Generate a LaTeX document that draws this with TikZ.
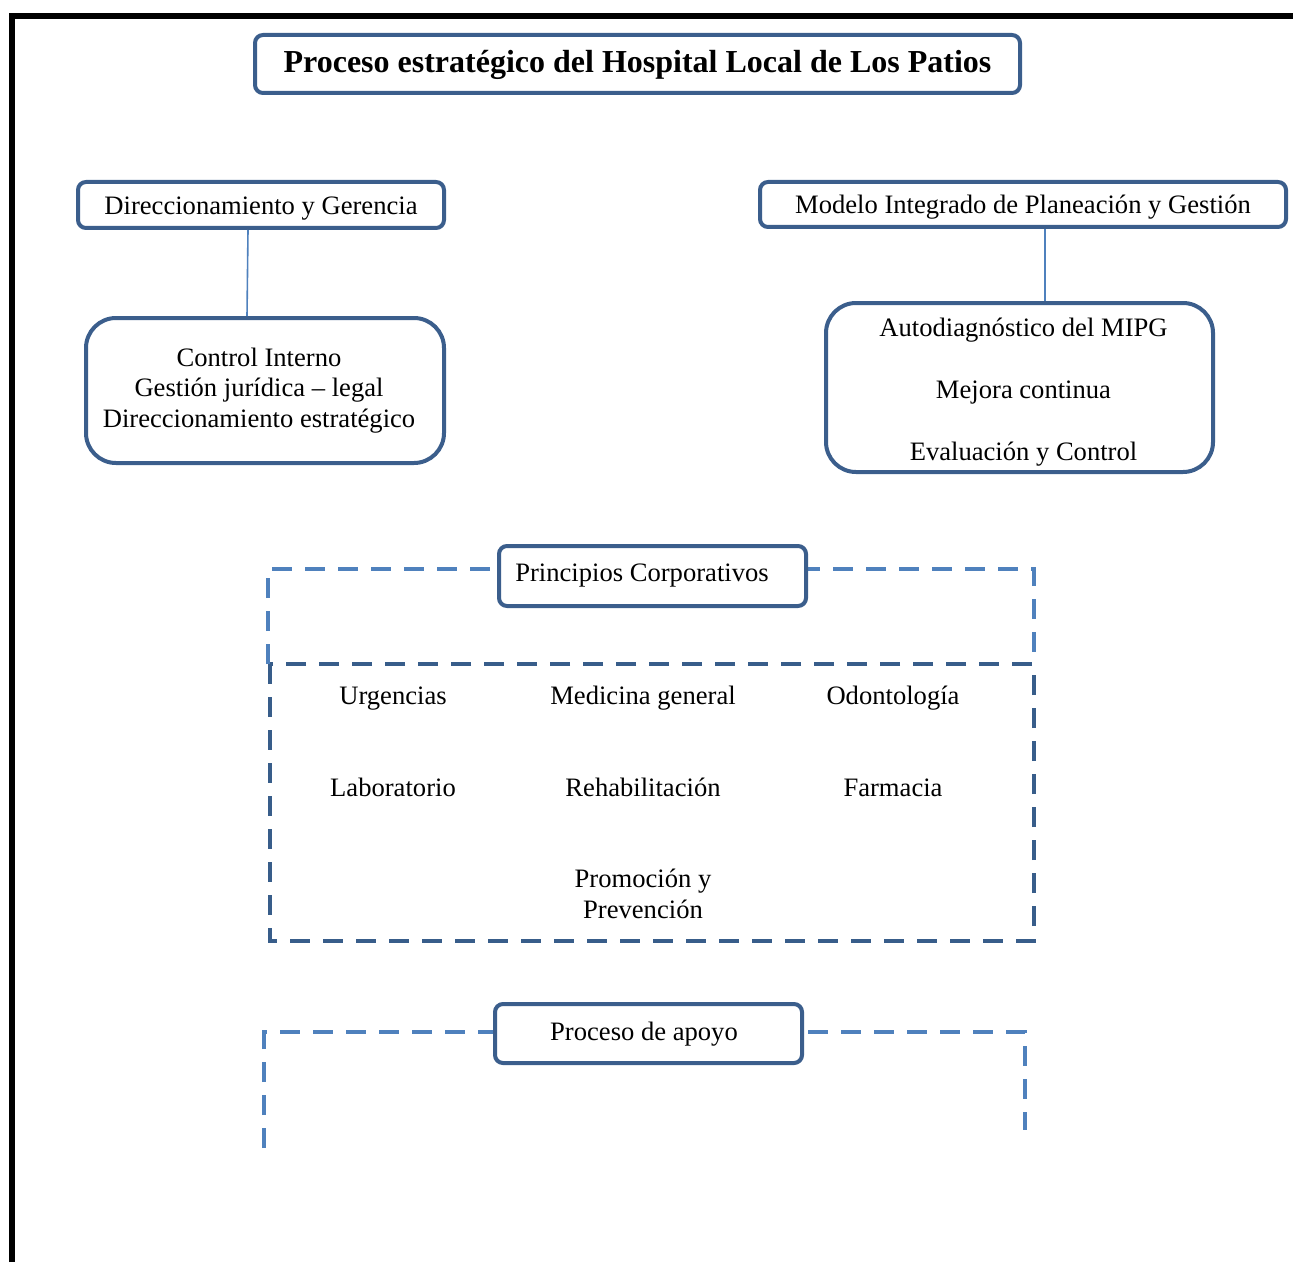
\documentclass[tikz,border=0pt]{standalone}
\usepackage{fontspec}
\setmainfont{Liberation Serif}
\usepackage{tikz}
\usetikzlibrary{positioning, calc}
\definecolor{boxblue}{HTML}{3B5E8C}
\definecolor{lightdash}{HTML}{4F81BD}
\definecolor{darkdash}{HTML}{385D8A}

\tikzset{
  boxnode/.style={draw=boxblue, line width=2pt, fill=white, rounded corners=4pt, inner sep=0pt, text height=12.5pt, text depth=3pt},
  bignode/.style={draw=boxblue, line width=2pt, fill=white, rounded corners=15pt, inner sep=0pt, align=center},
  link/.style={draw=lightdash, line width=0.8pt},
  lightframe/.style={draw=lightdash, line width=2.3pt, dash pattern=on 10pt off 6.5pt},
  darkframe/.style={draw=darkdash, line width=2.3pt, dash pattern=on 10pt off 6.5pt},
  item/.style={inner sep=0pt, align=center, text height=9pt, text depth=0pt}
}

\begin{document}
\begin{tikzpicture}[x=0.5pt, y=-0.5pt, every node/.style={font=\fontsize{13.3}{15.3}\selectfont}]
        \useasboundingbox (0,0) rectangle (1293,1262);
        % Page frame
        \draw[line width=2.6pt] (12,1262) -- (12,16) -- (1293,16);

        % Dashed frames
        \draw[lightframe] (268,664) -- (268,569) -- (1034,569) -- (1034,664);
        \draw[darkframe] (270,664) rectangle (1034,941);
        \draw[lightframe] (264,1148) -- (264,1032) -- (1025,1032) -- (1025,1130);

        % Title
        \node[boxnode, minimum width=382.5pt, minimum height=29pt, text height=12.5pt, text depth=4pt, font=\fontsize{16}{19}\selectfont\bfseries] (title) at (637.5,64) {Proceso estratégico del Hospital Local de Los Patios};

        % Left -- direccionamiento
        \node[boxnode, minimum width=183pt, minimum height=23pt] (dyg) at (261,205) {Direccionamiento y Gerencia};
        \node[bignode, minimum width=179pt, minimum height=72.5pt] (ctrl) at (265,390.5) {Control Interno\kern6pt\\ Gestión jurídica -- legal\kern6pt\\ Direccionamiento estratégico\kern6pt};
        \draw[link] ([xshift=-6.5pt]dyg.south) -- ([xshift=-9pt]ctrl.north);

        % Right -- MIPG
        \node[bignode, minimum width=193.5pt, minimum height=84.5pt] (auto) at (1019.5,387.5) {\rule{0pt}{14pt}\kern4pt Autodiagnóstico del MIPG\\[15.7pt] \kern4pt Mejora continua\\[15.7pt] \kern4pt Evaluación y Control};
        \node[boxnode, minimum width=263pt, minimum height=22.5pt] (mipg) at (1023,204.5) {Modelo Integrado de Planeación y Gestión};
        \draw[link] ([xshift=11pt]mipg.south) -- ([xshift=12.75pt]auto.north);

        % Principios and services
        \node[boxnode, minimum width=153.5pt, minimum height=30pt, text height=9pt, text depth=3.5pt] (princ) at (652.5,576) {Principios Corporativos\kern10.5pt};
        \node[item] (urg) at (393,695) {Urgencias};
        \node[item] (medg) at (643,695) {Medicina general};
        \node[item] (odon) at (893,695) {Odontología};
        \node[item] (lab) at (393,787) {Laboratorio};
        \node[item] (rehab) at (643,787) {Rehabilitación};
        \node[item] (farm) at (893,787) {Farmacia};
        \node[align=center] (promo) at (643,894) {Promoción y\\ Prevención};

        % Apoyo
        \node[boxnode, minimum width=153.5pt, minimum height=29.5pt, text height=10pt, text depth=3.5pt] (apoyo) at (648.5,1033.5) {Proceso de apoyo\kern4.5pt};
      \end{tikzpicture}
\end{document}
